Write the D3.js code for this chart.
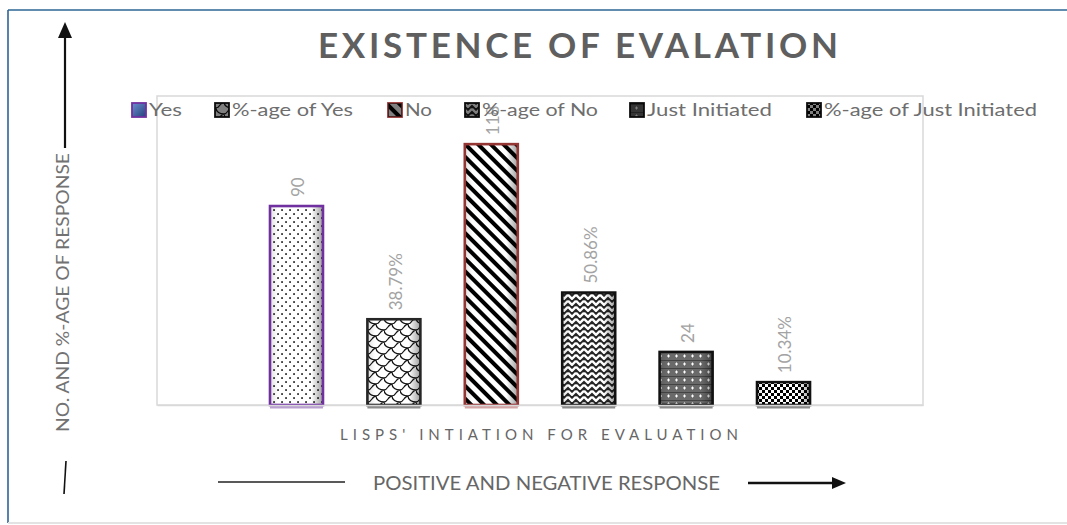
<!DOCTYPE html>
<html>
<head>
<meta charset="utf-8">
<script src="https://d3js.org/d3.v7.min.js"></script>
<style>
  body { margin: 0; background: #fff; }
  svg { display: block; font-family: Lato, "Open Sans", sans-serif; }
</style>
</head>
<body>
<svg id="chart" width="1067" height="525"></svg>
<script>
  // data
  var categories = ["Yes", "%-age of Yes", "No", "%-age of No", "Just Initiated", "%-age of Just Initiated"];
  var values = [90, 38.79, 118, 50.86, 24, 10.34];
  var valueLabels = ["90", "38.79%", "118", "50.86%", "24", "10.34%"];
  var patternIds = ["p-dots", "p-shingle", "p-stripe", "p-weave", "p-grid", "p-check"];
  var borderColors = ["#7030a0", "#262626", "#943634", "#111", "#111", "#111"];
  var footColors = ["#b9a0d0", "#8c8c8c", "#d4a5a5", "#8c8c8c", "#8c8c8c", "#8c8c8c"];
  var legendTextX = [149, 232, 405, 482, 647, 824];
  var legendTextW = [33, 121, 27, 116, 125, 213];

  var svg = d3.select("#chart");
  var defs = svg.append("defs");

  // fill patterns
  function pattern(id, w, h) {
    var p = defs.append("pattern").attr("id", id)
      .attr("patternUnits", "userSpaceOnUse").attr("width", w).attr("height", h);
    return p;
  }
  var p = pattern("p-dots", 8, 8);
  p.append("rect").attr("width", 8).attr("height", 8).attr("fill", "#fff");
  p.append("rect").attr("x", 1.2).attr("y", 1.2).attr("width", 1.7).attr("height", 1.7).attr("fill", "#1a1a1a");
  p.append("rect").attr("x", 5.2).attr("y", 5.2).attr("width", 1.7).attr("height", 1.7).attr("fill", "#1a1a1a");

  p = pattern("p-shingle", 16, 12);
  p.append("rect").attr("width", 16).attr("height", 12).attr("fill", "#fff");
  p.append("path").attr("d", "M0,6 C4,6 4,0 8,0 M8,0 C8,4 12,6 16,6 M0,6 C0,10 4,12 8,12 M8,12 C12,12 12,6 16,6")
    .attr("fill", "none").attr("stroke", "#151515").attr("stroke-width", 1.3);

  p = pattern("p-stripe", 9, 9).attr("patternTransform", "rotate(-45)");
  p.append("rect").attr("width", 9).attr("height", 9).attr("fill", "#fff");
  p.append("rect").attr("width", 4).attr("height", 9).attr("fill", "#000");

  p = pattern("p-weave", 8, 6);
  p.append("rect").attr("width", 8).attr("height", 6).attr("fill", "#262626");
  p.append("path").attr("d", "M0,0.8 L4,4.8 L8,0.8").attr("fill", "none")
    .attr("stroke", "#fff").attr("stroke-width", 2.4);

  p = pattern("p-grid", 8, 8);
  p.append("rect").attr("width", 8).attr("height", 8).attr("fill", "#6a6a6a");
  p.append("rect").attr("x", 0).attr("y", 0).attr("width", 8).attr("height", 1).attr("fill", "#444");
  p.append("rect").attr("x", 3).attr("y", 3.5).attr("width", 3).attr("height", 1).attr("fill", "#fff");
  p.append("rect").attr("x", 4).attr("y", 2.5).attr("width", 1).attr("height", 3).attr("fill", "#fff");

  p = pattern("p-check", 6, 6);
  p.append("rect").attr("width", 6).attr("height", 6).attr("fill", "#fff");
  p.append("rect").attr("width", 3).attr("height", 3).attr("fill", "#000");
  p.append("rect").attr("x", 3).attr("y", 3).attr("width", 3).attr("height", 3).attr("fill", "#000");

  // bevel shading over the bars
  var g = defs.append("linearGradient").attr("id", "shade").attr("x1", 0).attr("x2", 1).attr("y1", 0).attr("y2", 0);
  g.append("stop").attr("offset", "0%").attr("stop-color", "#000").attr("stop-opacity", 0.12);
  g.append("stop").attr("offset", "15%").attr("stop-color", "#000").attr("stop-opacity", 0);
  g.append("stop").attr("offset", "78%").attr("stop-color", "#000").attr("stop-opacity", 0);
  g.append("stop").attr("offset", "100%").attr("stop-color", "#000").attr("stop-opacity", 0.38);

  var gy = defs.append("linearGradient").attr("id", "yesSwatch").attr("x1", 0).attr("x2", 1).attr("y1", 0).attr("y2", 1);
  gy.append("stop").attr("offset", "0%").attr("stop-color", "#6d8fd0");
  gy.append("stop").attr("offset", "100%").attr("stop-color", "#23407a");

  // outer frame
  svg.append("line").attr("x1", 8).attr("x2", 1067).attr("y1", 10).attr("y2", 10)
    .attr("stroke", "#2e6496").attr("stroke-width", 1.6);
  svg.append("line").attr("x1", 8).attr("x2", 8).attr("y1", 10).attr("y2", 523)
    .attr("stroke", "#2e6496").attr("stroke-width", 1.6);
  svg.append("line").attr("x1", 8).attr("x2", 1067).attr("y1", 523).attr("y2", 523)
    .attr("stroke", "#e3e3e3").attr("stroke-width", 2);

  // scales
  var x = d3.scaleBand().domain(categories).range([157, 923]).paddingInner(0.456).paddingOuter(1.16);
  var y = d3.scaleLinear().domain([0, 140]).range([405, 95.5]);

  // plot area
  svg.append("rect").attr("x", 157).attr("y", 96).attr("width", 766).attr("height", 309)
    .attr("fill", "none").attr("stroke", "#d9d9d9").attr("stroke-width", 1.5);

  var bars = svg.append("g").selectAll("g").data(categories).join("g");
  bars.append("rect")
    .attr("x", function(d) { return x(d); })
    .attr("y", function(d, i) { return y(values[i]); })
    .attr("width", x.bandwidth())
    .attr("height", function(d, i) { return y(0) - y(values[i]); })
    .attr("fill", function(d, i) { return "url(#" + patternIds[i] + ")"; });
  bars.append("rect")
    .attr("x", function(d) { return x(d); })
    .attr("y", function(d, i) { return y(values[i]); })
    .attr("width", x.bandwidth())
    .attr("height", function(d, i) { return y(0) - y(values[i]); })
    .attr("fill", "url(#shade)")
    .attr("stroke", function(d, i) { return borderColors[i]; })
    .attr("stroke-width", 2.6);
  bars.append("rect")
    .attr("x", function(d) { return x(d); })
    .attr("y", y(0) + 1)
    .attr("width", x.bandwidth())
    .attr("height", 2.5)
    .attr("fill", function(d, i) { return footColors[i]; });

  // category axis line
  var xAxis = svg.append("g").attr("transform", "translate(0," + y(0) + ")")
    .call(d3.axisBottom(x).tickSize(0).tickFormat(""));
  xAxis.select(".domain").attr("stroke", "#d9d9d9").attr("stroke-width", 1.5);

  // data labels (rotated)
  bars.append("text")
    .attr("transform", function(d, i) {
      return "translate(" + (x(d) + x.bandwidth() / 2 + 2) + "," + (y(values[i]) - 9) + ") rotate(-90)";
    })
    .attr("dy", "0.35em")
    .attr("font-size", 17)
    .attr("fill", "#a3a3a3")
    .text(function(d, i) { return valueLabels[i]; });

  // title
  svg.append("text").attr("x", 318).attr("y", 58)
    .attr("font-size", 35).attr("font-weight", "bold").attr("fill", "#5f5f5f")
    .attr("textLength", 520).attr("lengthAdjust", "spacing")
    .text("EXISTENCE OF EVALATION");

  // legend
  var legend = svg.append("g").selectAll("g").data(categories).join("g");
  legend.append("rect")
    .attr("x", function(d, i) { return legendTextX[i] - 17; })
    .attr("y", 103).attr("width", 14).attr("height", 14)
    .attr("fill", function(d, i) { return i == 0 ? "url(#yesSwatch)" : "url(#" + patternIds[i] + ")"; })
    .attr("stroke", function(d, i) { return i == 0 ? "#7030a0" : (i == 2 ? "#943634" : "#111"); })
    .attr("stroke-width", 1.8);
  legend.append("rect")
    .attr("x", function(d, i) { return legendTextX[i] - 17; })
    .attr("y", 103).attr("width", 14).attr("height", 14)
    .attr("fill", "#000")
    .attr("fill-opacity", function(d, i) { return i == 0 ? 0 : 0.5; });
  legend.append("text")
    .attr("x", function(d, i) { return legendTextX[i]; })
    .attr("y", 116)
    .attr("font-size", 18).attr("fill", "#6e6e6e")
    .attr("textLength", function(d, i) { return legendTextW[i]; })
    .attr("lengthAdjust", "spacingAndGlyphs")
    .text(function(d) { return d; });

  // axis titles
  svg.append("text").attr("x", 340).attr("y", 440)
    .attr("font-size", 15).attr("fill", "#666")
    .attr("textLength", 398).attr("lengthAdjust", "spacing")
    .text("LISPS' INTIATION FOR EVALUATION");

  svg.append("text").attr("transform", "translate(69,432) rotate(-90)")
    .attr("font-size", 17).attr("fill", "#727272")
    .attr("textLength", 279).attr("lengthAdjust", "spacingAndGlyphs")
    .text("NO. AND %-AGE OF RESPONSE");

  svg.append("text").attr("x", 373).attr("y", 490)
    .attr("font-size", 19).attr("fill", "#666")
    .attr("textLength", 347).attr("lengthAdjust", "spacingAndGlyphs")
    .text("POSITIVE AND NEGATIVE RESPONSE");

  // hand-drawn arrows
  svg.append("line").attr("x1", 65).attr("x2", 65).attr("y1", 148).attr("y2", 36)
    .attr("stroke", "#111").attr("stroke-width", 2.2);
  svg.append("path").attr("d", "M58,38 L65,22 L72,38 Z").attr("fill", "#111");
  svg.append("line").attr("x1", 66).attr("x2", 64).attr("y1", 461).attr("y2", 494)
    .attr("stroke", "#111").attr("stroke-width", 1.6);
  svg.append("line").attr("x1", 218).attr("x2", 345).attr("y1", 482).attr("y2", 482)
    .attr("stroke", "#222").attr("stroke-width", 1.5);
  svg.append("line").attr("x1", 748).attr("x2", 834).attr("y1", 483).attr("y2", 483)
    .attr("stroke", "#111").attr("stroke-width", 2.4);
  svg.append("path").attr("d", "M832,477 L846,483 L832,489 Z").attr("fill", "#111");
</script>
</body>
</html>
